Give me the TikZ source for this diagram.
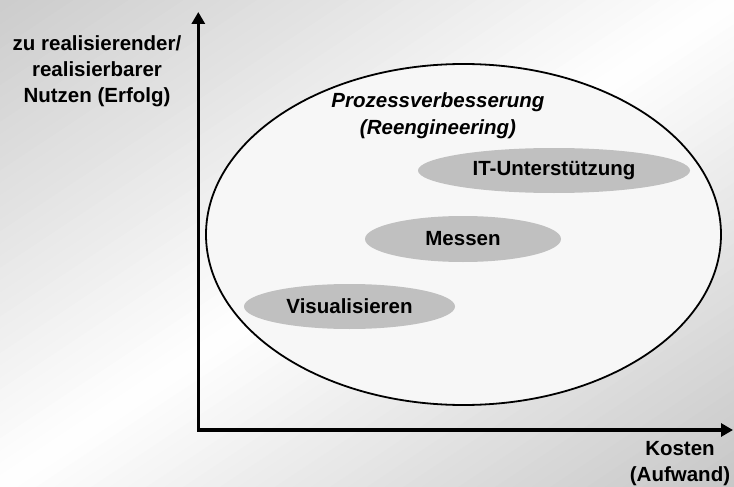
\documentclass[tikz,border=0pt]{standalone}
\usepackage{fontspec}
\setmainfont{Liberation Sans}
\usetikzlibrary{shapes.geometric,arrows.meta}
\definecolor{bigfill}{HTML}{F7F7F7}
\definecolor{smallfill}{HTML}{C0C0C0}
\tikzset{
  lbl/.style={font=\bfseries\fontsize{20.5}{26}\selectfont, align=center, inner sep=0pt},
  itlbl/.style={font=\bfseries\itshape\fontsize{20.5}{26.5}\selectfont, align=center, inner sep=0pt},
  bigell/.style={ellipse, draw=black, line width=1.8pt, fill=bigfill, inner sep=0pt},
  smallell/.style={ellipse, fill=smallfill, draw=none, inner sep=0pt,
     font=\bfseries\fontsize{20.5}{26.5}\selectfont},
  axisline/.style={line width=3.6pt, line join=miter,
     {Triangle[width=13pt,length=12pt]}-{Triangle[width=13pt,length=12pt]}}
}
\begin{document}
\begin{tikzpicture}[x=1pt,y=-1pt]
\useasboundingbox (0,0) rectangle (734,487);
% background diagonal gradient
\begin{scope}
\clip (0,0) rectangle (734,487);
\foreach \i in {0,...,79}{
  \pgfmathsetmacro\tm{(\i+0.5)/40}
  \pgfmathsetmacro\g{\tm<1 ? 0.80+0.20*\tm : 1-0.22*(\tm-1)}
  \definecolor{stripc}{gray}{\g}
  \fill[stripc] ({734*(\i/40-2)},974) -- ({734*(\i/40+2)},-974)
     -- ({734*((\i+1.4)/40+2)},-974) -- ({734*((\i+1.4)/40-2)},974) -- cycle;
}
\end{scope}
% big ellipse
\node[bigell, minimum width=515pt, minimum height=341pt] (big) at (463.5,234.5) {};
\node[itlbl] (proz) at (438,115.5) {Prozessverbesserung\\(Reengineering)};
% small ellipses
\node[smallell, minimum width=272pt, minimum height=45pt] (it) at (554,170.5) {IT-Unterstützung};
\node[smallell, minimum width=196pt, minimum height=46pt] (mess) at (463,239) {Messen};
\node[smallell, minimum width=211pt, minimum height=45pt] (vis) at (349.5,306.5) {Visualisieren};
% axes
\coordinate (O) at (198.3,430);
\coordinate (ytip) at (198.3,12);
\coordinate (xtip) at (733,430);
\draw[axisline] (ytip) -- (O) -- (xtip);
% axis labels
\node[lbl] (ylab) at (97,71.5) {zu realisierender/\\realisierbarer\\Nutzen (Erfolg)};
\node[lbl] (xlab) at (680,463.5) {Kosten\\(Aufwand)};
\end{tikzpicture}
\end{document}
